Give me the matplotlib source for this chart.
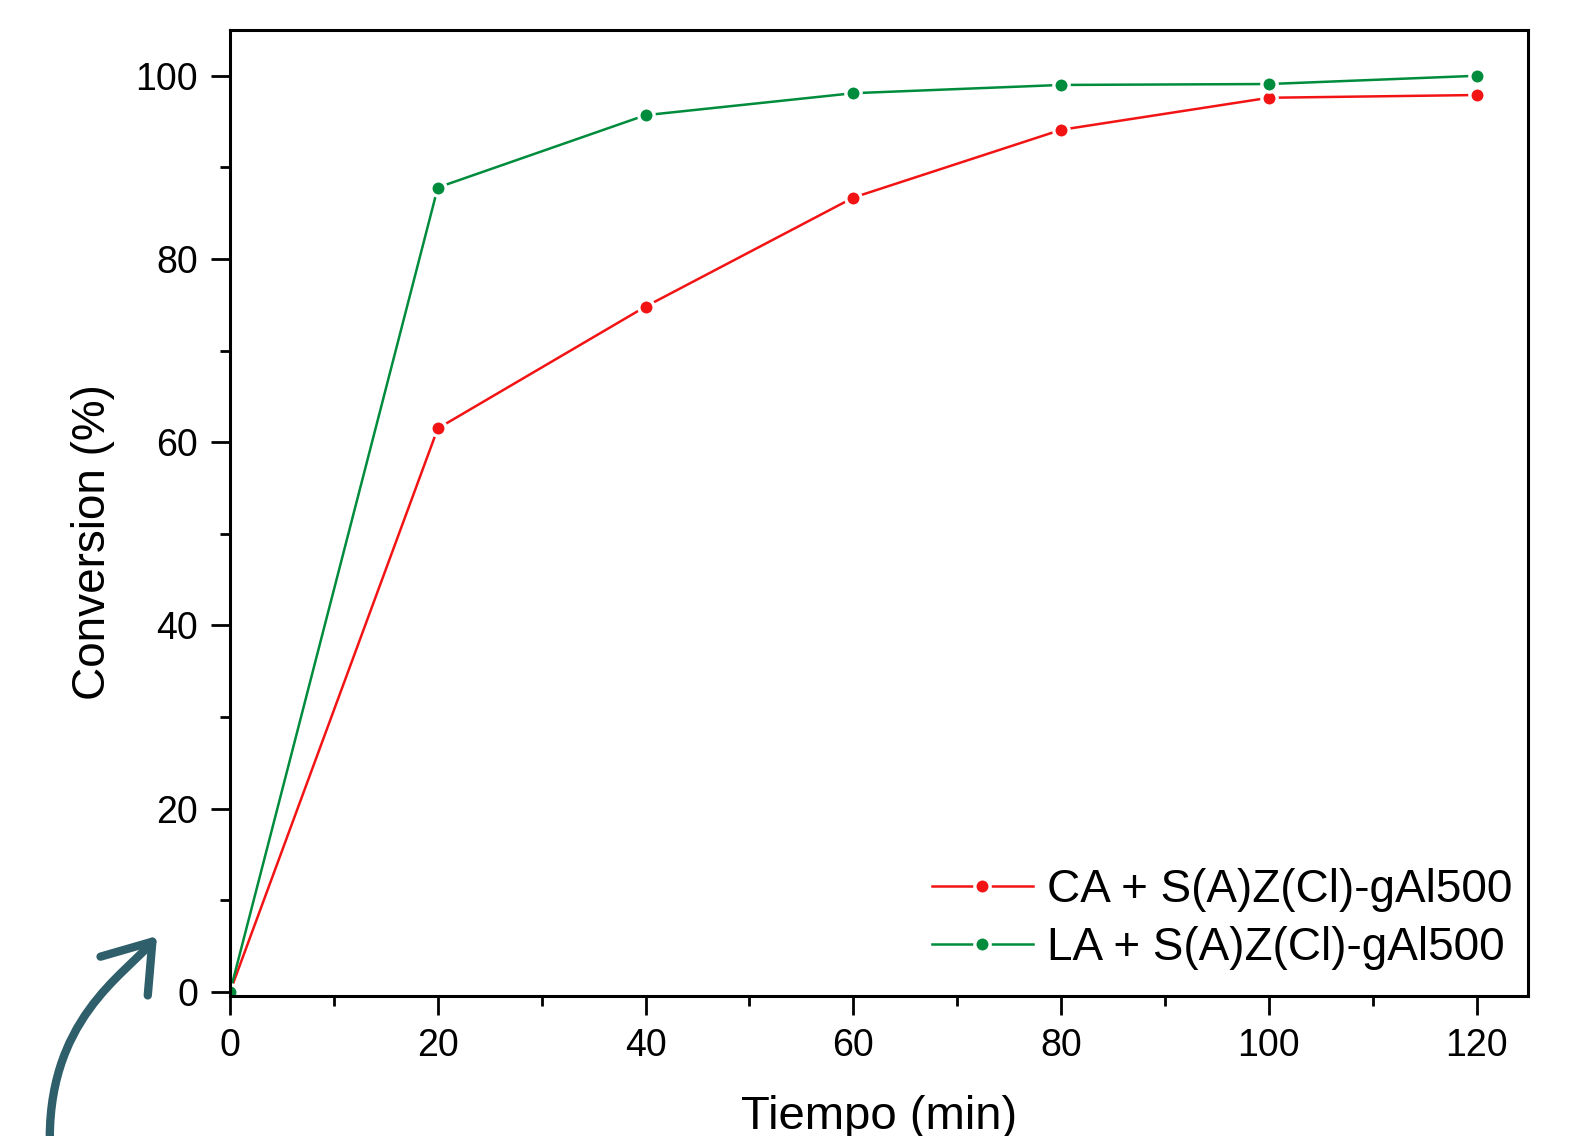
import numpy as np
import matplotlib.pyplot as plt
from matplotlib.patches import FancyArrowPatch
from matplotlib.path import Path
from matplotlib.ticker import MultipleLocator

plt.rcParams['font.family'] = ['Liberation Sans', 'DejaVu Sans']

# datos
tiempo = [0, 20, 40, 60, 80, 100, 120]
conv_ca = [0.0, 61.5, 74.8, 86.7, 94.1, 97.6, 97.9]
conv_la = [0.0, 87.8, 95.7, 98.1, 99.0, 99.1, 100.0]
etiquetas = ['CA + S(A)Z(Cl)-gAl500', 'LA + S(A)Z(Cl)-gAl500']

rojo = '#f21414'
verde = '#008c3c'

W, H = 1579, 1136
fig = plt.figure(figsize=(W / 100, H / 100), dpi=100)
ax = fig.add_axes([0.1457, 0.123, 0.8223, 0.8506])

ax.plot(tiempo, conv_ca, '-o', color=rojo, lw=1.8, ms=11, mec='white', mew=2.4,
        label=etiquetas[0])
ax.plot(tiempo, conv_la, '-o', color=verde, lw=1.8, ms=11, mec='white', mew=2.4,
        label=etiquetas[1])

ax.set_xlim(0, 125)
ax.set_ylim(-0.5, 105)
ax.xaxis.set_major_locator(MultipleLocator(20))
ax.xaxis.set_minor_locator(MultipleLocator(10))
ax.yaxis.set_major_locator(MultipleLocator(20))
ax.yaxis.set_minor_locator(MultipleLocator(10))
ax.tick_params(which='major', direction='out', length=14, width=2, labelsize=27, pad=9)
ax.tick_params(which='minor', direction='out', length=7, width=2)
ax.tick_params(top=False, right=False)
for s in ax.spines.values():
    s.set_linewidth(2.2)

ax.set_xlabel('Tiempo (min)', fontsize=34, labelpad=22)
ax.set_ylabel('Conversion (%)', fontsize=33)
ax.yaxis.set_label_coords(-0.089, 0.47)

ax.legend(loc='lower right', bbox_to_anchor=(1.012, -0.006), frameon=False,
          fontsize=33, numpoints=1, handlelength=2.2, handletextpad=0.3,
          labelspacing=0.3, borderaxespad=0.3)

# flecha decorativa (en píxeles de la figura, desde arriba)
pts = [(50, 1150), (45, 1020), (125, 975), (157, 936)]
verts = [(x / W, 1 - y / H) for x, y in pts]
camino = Path(verts, [Path.MOVETO, Path.CURVE4, Path.CURVE4, Path.CURVE4])
flecha = FancyArrowPatch(path=camino, transform=fig.transFigure,
                         arrowstyle='->,head_length=32,head_width=22',
                         mutation_scale=1, color='#2e5f6b', lw=6,
                         capstyle='round', joinstyle='round')
fig.patches.append(flecha)

fig.savefig('out.png', dpi=100)
